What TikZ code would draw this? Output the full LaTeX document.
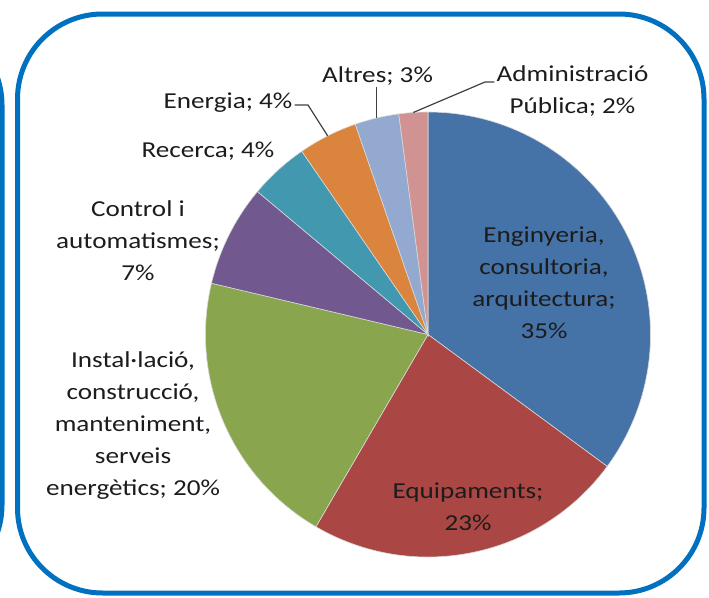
\documentclass[tikz,border=0pt]{standalone}
\usepackage{fontspec}
\setmainfont{Carlito}[FakeStretch=1.19]
\usetikzlibrary{calc}

\definecolor{frameblue}{HTML}{0070C0}
\definecolor{engblue}{HTML}{4572A7}
\definecolor{eqred}{HTML}{AA4643}
\definecolor{insgreen}{HTML}{89A54E}
\definecolor{ctrlpurple}{HTML}{71588F}
\definecolor{recteal}{HTML}{4198AF}
\definecolor{enorange}{HTML}{DB843D}
\definecolor{altblue}{HTML}{93A9CF}
\definecolor{admpink}{HTML}{D19392}
\definecolor{labeltext}{HTML}{1C1C1C}
\definecolor{leadergray}{HTML}{404040}

\begin{document}
\begin{tikzpicture}[x=1pt,y=-1pt]
	\tikzstyle{frame} = [draw=frameblue, line width=5pt, rounded corners=85pt];
	\tikzstyle{label} = [align=center, text=labeltext, inner sep=2pt, font=\fontsize{22.8}{32}\selectfont];
	\tikzstyle{leader} = [draw=leadergray, line width=1.2pt];
	\useasboundingbox (0,0) rectangle (709,597);

	% frames
	\begin{scope}
		\clip (0,0) rectangle (709,597);
		\draw[frame] (-300,20) rectangle (2,590);
	\end{scope}
	\draw[frame] (17.5,14) rectangle (704,593);

	% pie, clockwise from the top
	\coordinate (centre) at (428,334.5);
	\def\rad{222.5}
	\def\ang{-90}
	\foreach \val/\col in {35.1/engblue, 23.3/eqred, 20.3/insgreen, 7.4/ctrlpurple, 4.3/recteal, 4.3/enorange, 3.2/altblue, 2.1/admpink} {
		\pgfmathsetmacro\angend{\ang+3.6*\val}
		\fill[\col, draw=white!85!black, line width=0.6pt] (centre) -- ++(\ang:\rad) arc[start angle=\ang, end angle=\angend, radius=\rad] -- cycle;
		\xdef\ang{\angend}
	}

	% labels (base = last line)
	\draw node [label, anchor=base] (lEng) at (544,338) {Enginyeria,\\consultoria,\\arquitectura;\\35\%};
	\draw node [label, anchor=base] (lEqu) at (468,530) {Equipaments;\\23\%};
	\draw node [label, anchor=base] (lIns) at (133,495) {Instal·lació,\\construcció,\\manteniment,\\serveis\\energètics; 20\%};
	\draw node [label, anchor=base] (lCtrl) at (138,280) {Control i\\automatismes;\\7\%};
	\draw node [label, anchor=base] (lRec) at (208,157) {Recerca; 4\%};
	\draw node [label, anchor=base] (lEner) at (228,108) {Energia; 4\%};
	\draw node [label, anchor=base] (lAlt) at (377.5,82) {Altres; 3\%};
	\draw node [label, anchor=base] (lAdm) at (572.5,113) {Administració\\Pública; 2\%};

	\coordinate (pEner) at ($(centre)+(243.2:\rad)$);
	\coordinate (kEner) at (308,105);
	\coordinate (pAlt) at ($(centre)+(256.7:\rad)$);
	\coordinate (pAdm) at ($(centre)+(266.2:\rad)$);
	\coordinate (kAdm) at (485,82);

	\draw [leader] (pEner) -- (kEner) -- (kEner -| lEner.east);
	\draw [leader] (pAlt) -- (pAlt |- lAlt.south);
	\draw [leader] (pAdm) -- (kAdm) -- (kAdm -| lAdm.west);
\end{tikzpicture}
\end{document}
